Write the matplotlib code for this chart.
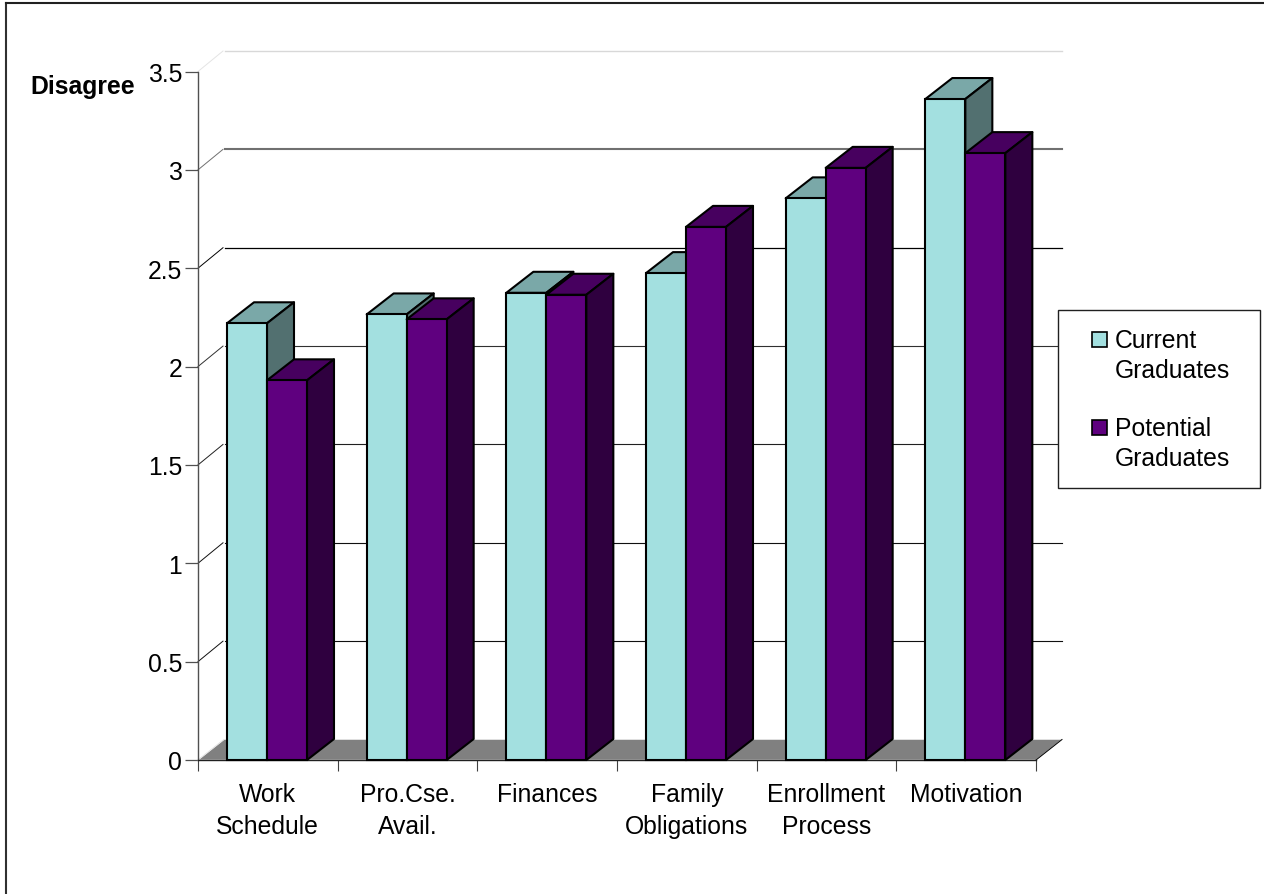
import matplotlib
matplotlib.use("Agg")
import matplotlib.pyplot as plt
from matplotlib.lines import Line2D
from matplotlib.patches import Polygon, Rectangle

plt.rcParams['font.family'] = ['Liberation Sans', 'DejaVu Sans']

# Survey means by barrier category
categories = ["Work\nSchedule", "Pro.Cse.\nAvail.", "Finances",
              "Family\nObligations", "Enrollment\nProcess", "Motivation"]
current_graduates = [2.22, 2.265, 2.375, 2.475, 2.855, 3.36]
potential_graduates = [1.93, 2.24, 2.365, 2.71, 3.01, 3.085]
y_ticks = [0, 0.5, 1, 1.5, 2, 2.5, 3, 3.5]
y_tick_labels = ["0", "0.5", "1", "1.5", "2", "2.5", "3", "3.5"]
series_names = ["Current\nGraduates", "Potential\nGraduates"]

W, H = 1264, 895
FS = 17.8
fig = plt.figure(figsize=(W / 100, H / 100), dpi=100, facecolor="white")

# Pixel-addressed overlay for the frame and legend
overlay = fig.add_axes([0, 0, 1, 1], zorder=5)
overlay.set_xlim(0, W)
overlay.set_ylim(H, 0)
overlay.axis("off")
overlay.patch.set_alpha(0)

# Plot area
L, R, B, T = 198, 1036, 761, 72.5
ax = fig.add_axes([L / W, 1 - B / H, (R - L) / W, (B - T) / H], zorder=2)
ax.set_xlim(0, len(categories))
ax.set_ylim(0, 3.5)
ax.patch.set_alpha(0)
for name, spine in ax.spines.items():
    spine.set_visible(False)

px_x = len(categories) / (R - L)
px_y = 3.5 / (B - T)
DX = 27 * px_x         # depth of the 3-D box, horizontal
DY = 21 * px_y         # depth of the 3-D box, vertical
WALL_DX = 26 * px_x    # horizontal shift of the back wall
WALL_DY = 20.5 * px_y  # rise of the back wall above the front axis
GAP = 29 * px_x        # space before the first bar in a group
BW = 40 * px_x         # bar width
n = len(categories)

# Frame runs along the top and left only
overlay.add_line(Line2D([6, 6], [3.5, H], color="#303030", lw=1.5))
overlay.add_line(Line2D([6, W], [3.5, 3.5], color="#202020", lw=1.5))

# Back wall gridlines with their diagonals on the side wall
grid_colors = ["#000000", "#101010", "#101010", "#202020", "#303030", "#000000", "#707070", "#d8d8d8"]
grid_widths = [0.8, 0.8, 0.8, 0.8, 0.8, 0.9, 1.5, 1.0]
for v, col, lw in zip(y_ticks[1:], grid_colors[1:], grid_widths[1:]):
    ax.plot([WALL_DX + 1 * px_x, n + WALL_DX], [v + WALL_DY, v + WALL_DY], color=col, lw=lw, clip_on=False, zorder=1)
    ax.plot([0, WALL_DX - 1 * px_x], [v, v + WALL_DY], color=col if v < 3.5 else "#e4e4e4", lw=0.7, clip_on=False, zorder=1)

# Floor
ax.add_patch(Polygon([(0, 0), (WALL_DX, WALL_DY), (n + WALL_DX, WALL_DY), (n, 0)], closed=True,
                     facecolor="#808080", edgecolor="#e6e6e6", lw=0.6,
                     clip_on=False, zorder=1.5))
ax.plot([n, n + WALL_DX], [0, WALL_DY], color="black", lw=0.7, clip_on=False, zorder=1.6)
ax.plot([0, WALL_DX], [0, WALL_DY], color="#e6e6e6", lw=0.7, clip_on=False, zorder=1.6)

# Axis lines and ticks
ax.plot([0, 0], [0, 3.5], color="#505050", lw=1.0, clip_on=False, zorder=1.7)
ax.plot([0, n], [0, 0], color="#202020", lw=1.0, clip_on=False, zorder=1.7)
ax.set_yticks(y_ticks)
ax.set_yticklabels(y_tick_labels, fontsize=FS, color="black")
ax.tick_params(axis="y", length=9.5, width=0.9, color="#505050", pad=2)
ax.set_xticks(range(n + 1))
ax.set_xticklabels([])
ax.tick_params(axis="x", length=8, width=0.8, color="#404040")


def draw_box(x, value, front, top, side, z):
    ax.bar(x, value, width=BW, align="edge", facecolor=front, edgecolor="black",
           linewidth=1.5, clip_on=False, zorder=z + 0.02)
    ax.add_patch(Polygon([(x, value), (x + DX, value + DY), (x + BW + DX, value + DY), (x + BW, value)],
                         closed=True, facecolor=top, edgecolor="black", lw=1.5,
                         joinstyle="round", clip_on=False, zorder=z))
    ax.add_patch(Polygon([(x + BW, 0), (x + BW + DX, DY), (x + BW + DX, value + DY), (x + BW, value)],
                         closed=True, facecolor=side, edgecolor="black", lw=1.5,
                         joinstyle="round", clip_on=False, zorder=z))


CUR = ("#A3E0E0", "#7AA8A8", "#527070")
POT = ("#5F007F", "#47005F", "#2F003F")
for i, (c, p) in enumerate(zip(current_graduates, potential_graduates)):
    draw_box(i + GAP, c, *CUR, z=2 + i * 0.1)
    draw_box(i + GAP + BW, p, *POT, z=2.05 + i * 0.1)

# Category labels sit below the tick marks
for i, label in enumerate(categories):
    ax.annotate(label, xy=(i + 0.5, 0), xycoords="data", xytext=(0, -16),
                textcoords="offset points", ha="center", va="top",
                fontsize=FS, color="black", linespacing=1.43, annotation_clip=False)

overlay.text(30, 87, "Disagree", fontsize=FS, fontweight="bold", va="center", ha="left", color="black")

# Legend
overlay.add_patch(Rectangle((1058, 311), 202, 178, facecolor="white", edgecolor="#202020", lw=1.0))
swatches = [(333, CUR[0]), (421, POT[0])]
for (top, color), name in zip(swatches, series_names):
    overlay.add_patch(Rectangle((1091.5, top), 15, 14.5, facecolor=color, edgecolor="black", lw=1.2))
    overlay.text(1115, top - 4, name, fontsize=FS, va="top", ha="left",
                 color="black", linespacing=1.33)

fig.savefig("out.png", dpi=100)
